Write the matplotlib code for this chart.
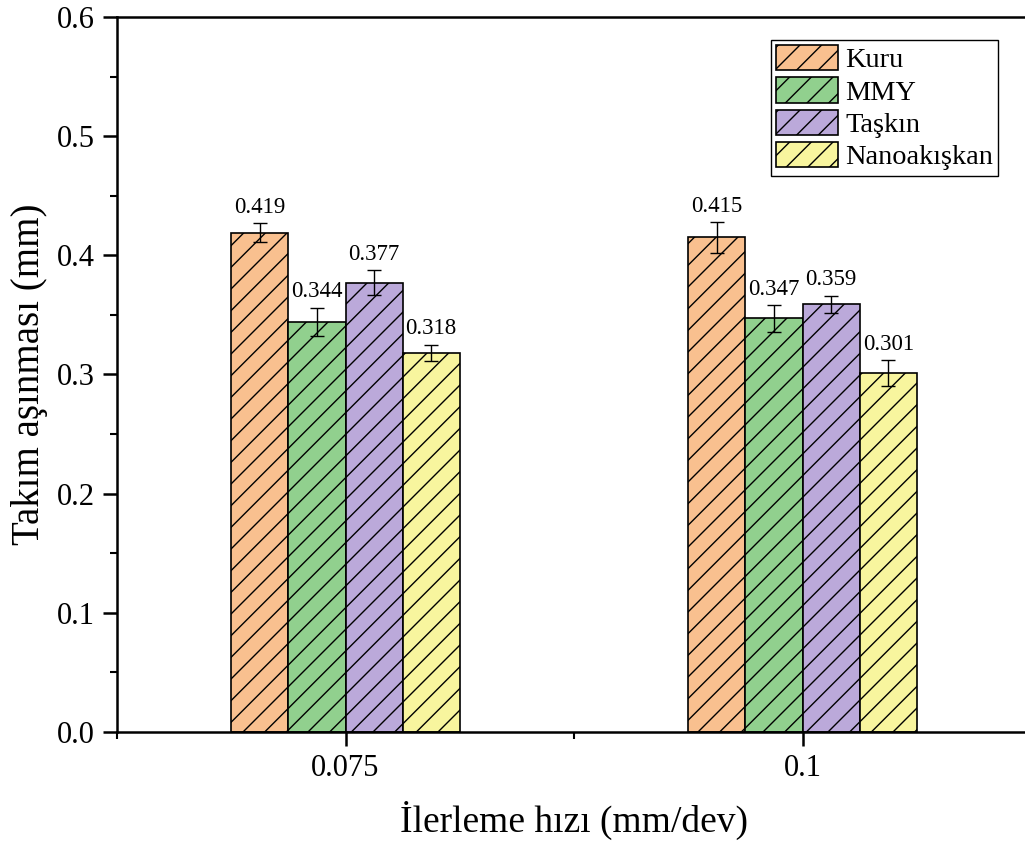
import matplotlib.pyplot as plt
import numpy as np
from matplotlib.ticker import MultipleLocator

DPI = 130
F = 100 / DPI  # sizes below are given for a 100 dpi figure

plt.rcParams['font.family'] = ['Liberation Serif', 'DejaVu Serif']
plt.rcParams['hatch.linewidth'] = 1.0 * F

groups = ['0.075', '0.1']
series = ['Kuru', 'MMY', 'Taşkın', 'Nanoakışkan']
values = [[0.419, 0.415],
          [0.344, 0.347],
          [0.377, 0.359],
          [0.318, 0.301]]
errors = [[0.008, 0.013],
          [0.012, 0.011],
          [0.0105, 0.007],
          [0.007, 0.011]]
colors = ['#F9C08F', '#91D08E', '#BBA9DA', '#F8F59E']

fig = plt.figure(figsize=(1025 / DPI, 848 / DPI), dpi=DPI)
ax = fig.add_axes([117/1025, 116/848, 914/1025, 715/848])

x = np.arange(len(groups))
w = 0.125
for i, (name, vals, errs, c) in enumerate(zip(series, values, errors, colors)):
    pos = x + (i - 1.5) * w
    ax.bar(pos, vals, w, color=c, edgecolor='black', linewidth=1.2 * F,
           hatch='//', label=name, yerr=errs, capsize=5 * F,
           error_kw=dict(elinewidth=1 * F, capthick=1 * F, ecolor='black'))
    for p, v, e in zip(pos, vals, errs):
        ax.text(p, v + e + 0.0045, f'{v:.3f}', ha='center', va='bottom',
                fontsize=16.5 * F)

ax.set_xlim(-0.5, 1.5)
ax.set_ylim(0, 0.6)
ax.set_xticks(x)
ax.set_xticklabels(groups)
ax.xaxis.set_minor_locator(MultipleLocator(0.5))
ax.yaxis.set_major_locator(MultipleLocator(0.1))
ax.yaxis.set_minor_locator(MultipleLocator(0.05))
ax.yaxis.set_major_formatter(plt.FormatStrFormatter('%.1f'))
ax.tick_params(which='major', length=10 * F, width=1.8 * F,
               labelsize=22 * F, pad=6 * F)
ax.tick_params(which='minor', length=5 * F, width=1.5 * F)
for s in ax.spines.values():
    s.set_linewidth(1.8 * F)

ax.set_xlabel('İlerleme hızı (mm/dev)', fontsize=27 * F, labelpad=13 * F)
ax.set_ylabel('Takım aşınması (mm)', fontsize=28 * F, labelpad=6 * F)

leg = ax.legend(loc='upper right', bbox_to_anchor=(0.964, 0.968),
                fontsize=20.4 * F, fancybox=False, edgecolor='black',
                framealpha=1, handlelength=2.2, handleheight=1.0,
                labelspacing=0.14, handletextpad=0.25, borderpad=0.18,
                borderaxespad=0)
leg.get_frame().set_linewidth(1.0 * F)

fig.savefig('out.png', dpi=DPI)
